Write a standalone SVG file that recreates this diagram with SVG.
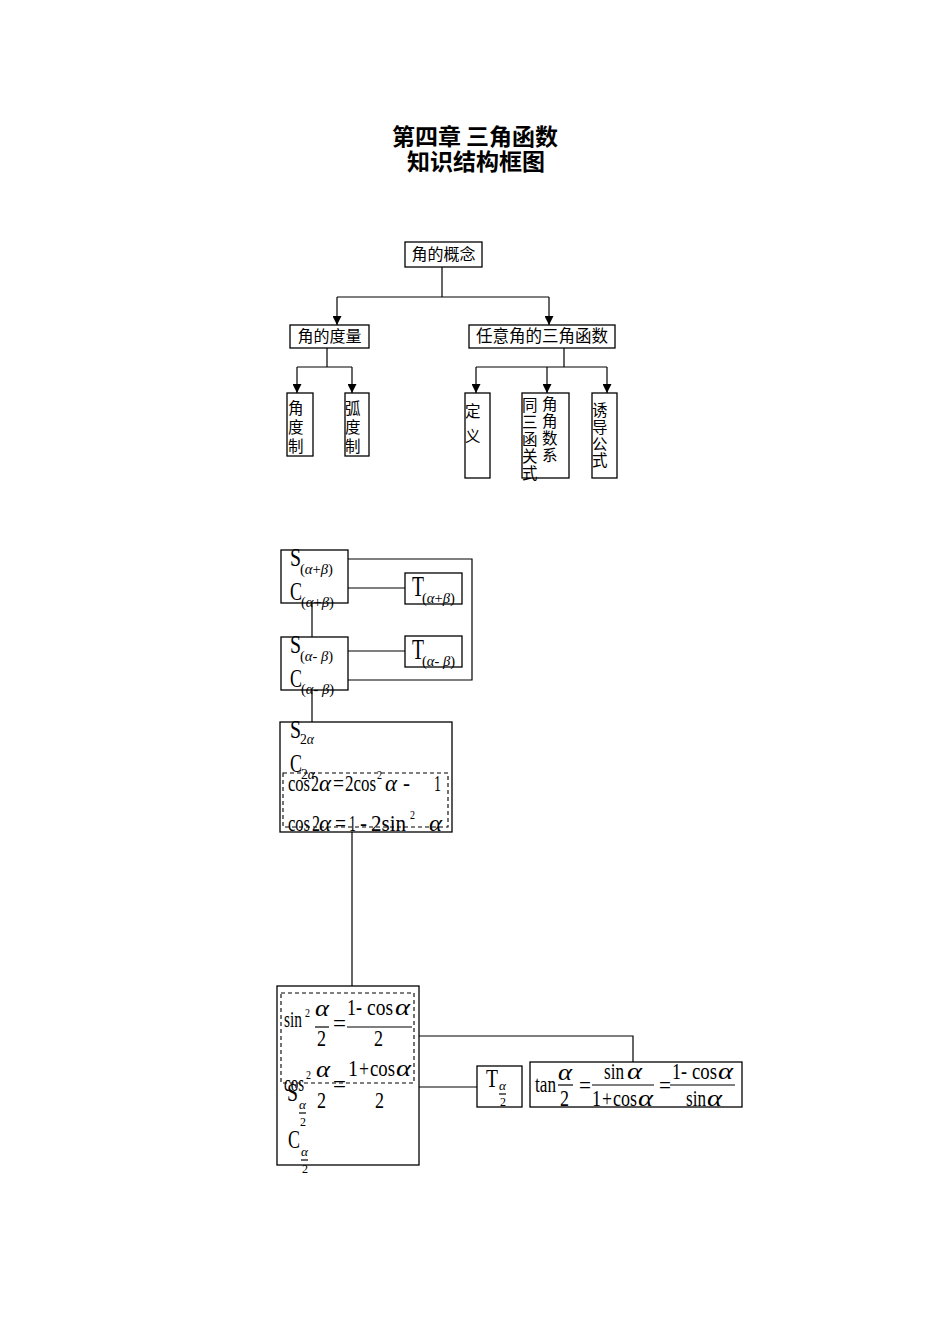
<svg xmlns="http://www.w3.org/2000/svg" width="950" height="1344" viewBox="0 0 950 1344">
<style>
.bx{fill:none;stroke:#000;stroke-width:1.3}
.ds{fill:none;stroke:#000;stroke-width:1.1;stroke-dasharray:4,3}
.ln{fill:none;stroke:#000;stroke-width:1.2}
.t{font-family:"Liberation Serif","Times New Roman",serif;fill:#000}
.i{font-style:italic}
.cj{font-family:"Noto Sans CJK SC","Noto Sans",sans-serif;fill:#000;font-size:15.5px}
.title{font-family:"Noto Sans CJK SC",sans-serif;font-weight:bold;font-size:23px;fill:#000;text-anchor:middle}
</style>
<defs>
<marker id="ah" viewBox="0 0 10 10" refX="10" refY="5" markerWidth="10" markerHeight="9" markerUnits="userSpaceOnUse" orient="auto">
<path d="M0,0 L10,5 L0,10 z" fill="#000"/>
</marker>
</defs>
<rect width="950" height="1344" fill="#fff"/>

<g id="title">
<text class="title" x="475" y="145">第四章 三角函数</text>
<text class="title" x="476" y="170">知识结构框图</text>
</g>

<g id="connectors">
<path class="ln" d="M442,267 V297 M337,297 H549 M327,348 V367 M297,367 H352 M564,348 V367 M476,367 H607"/>
<path class="ln" d="M337,297 V325" marker-end="url(#ah)"/>
<path class="ln" d="M549,297 V325" marker-end="url(#ah)"/>
<path class="ln" d="M297,367 V393" marker-end="url(#ah)"/>
<path class="ln" d="M352,367 V393" marker-end="url(#ah)"/>
<path class="ln" d="M476,367 V393" marker-end="url(#ah)"/>
<path class="ln" d="M547,367 V393" marker-end="url(#ah)"/>
<path class="ln" d="M607,367 V393" marker-end="url(#ah)"/>
<path class="ln" d="M312,603 V637 M348,559 H472 V680 H348 M348,588 H405 M348,651 H405 M312,690 V722 M352,832 V986 M419,1036 H633 V1062 M419,1087 H477"/>
</g>

<g id="n-concept">
<rect class="bx" x="405" y="242" width="77" height="25"/>
<text class="cj" x="443.5" y="260" text-anchor="middle" style="font-size:16px">角的概念</text>
</g>
<g id="n-measure">
<rect class="bx" x="290" y="325" width="79" height="23"/>
<text class="cj" x="329.5" y="342" text-anchor="middle" style="font-size:16px">角的度量</text>
</g>
<g id="n-trig">
<rect class="bx" x="469" y="325" width="146" height="23"/>
<text class="cj" x="542" y="342" text-anchor="middle" style="font-size:16.5px">任意角的三角函数</text>
</g>
<g id="n-degree">
<rect class="bx" x="287" y="393" width="26" height="63"/>
<text class="cj" x="288" y="414">角</text>
<text class="cj" x="288" y="433">度</text>
<text class="cj" x="288" y="452">制</text>
</g>
<g id="n-radian">
<rect class="bx" x="345" y="393" width="24" height="63"/>
<text class="cj" x="345" y="414">弧</text>
<text class="cj" x="345" y="433">度</text>
<text class="cj" x="345" y="452">制</text>
</g>
<g id="n-def">
<rect class="bx" x="465" y="393" width="25" height="85"/>
<text class="cj" x="465" y="417">定</text>
<text class="cj" x="465" y="442">义</text>
</g>
<g id="n-relation">
<rect class="bx" x="522" y="393" width="47" height="85"/>
<text class="cj" x="522" y="411">同</text>
<text class="cj" x="522" y="428">三</text>
<text class="cj" x="522" y="445">函</text>
<text class="cj" x="522" y="462">关</text>
<text class="cj" x="522" y="479">式</text>
<text class="cj" x="542" y="410">角</text>
<text class="cj" x="542" y="427">角</text>
<text class="cj" x="542" y="444">数</text>
<text class="cj" x="542" y="461">系</text>
</g>
<g id="n-induce">
<rect class="bx" x="592" y="393" width="25" height="85"/>
<text class="cj" x="592" y="416">诱</text>
<text class="cj" x="592" y="433">导</text>
<text class="cj" x="592" y="450">公</text>
<text class="cj" x="592" y="466">式</text>
</g>

<g id="n-sc-plus">
<rect class="bx" x="281" y="550" width="67" height="53"/>
<text class="t" x="290" y="566" font-size="25" textLength="11" lengthAdjust="spacingAndGlyphs">S</text>
<text class="t" x="300" y="574" font-size="14" textLength="33" lengthAdjust="spacingAndGlyphs">(<tspan class="i">α</tspan>+<tspan class="i">β</tspan>)</text>
<text class="t" x="290" y="600" font-size="25" textLength="12" lengthAdjust="spacingAndGlyphs">C</text>
<text class="t" x="301" y="607" font-size="14" textLength="33" lengthAdjust="spacingAndGlyphs">(<tspan class="i">α</tspan>+<tspan class="i">β</tspan>)</text>
</g>
<g id="n-sc-minus">
<rect class="bx" x="281" y="637" width="67" height="53"/>
<text class="t" x="290" y="653" font-size="25" textLength="11" lengthAdjust="spacingAndGlyphs">S</text>
<text class="t" x="300" y="661" font-size="14" textLength="33" lengthAdjust="spacingAndGlyphs">(<tspan class="i">α</tspan>- <tspan class="i">β</tspan>)</text>
<text class="t" x="290" y="687" font-size="25" textLength="12" lengthAdjust="spacingAndGlyphs">C</text>
<text class="t" x="301" y="694" font-size="14" textLength="33" lengthAdjust="spacingAndGlyphs">(<tspan class="i">α</tspan>- <tspan class="i">β</tspan>)</text>
</g>
<g id="n-t-plus">
<rect class="bx" x="405" y="573" width="57" height="31"/>
<text class="t" x="412" y="596" font-size="30" textLength="12" lengthAdjust="spacingAndGlyphs">T</text>
<text class="t" x="422" y="603" font-size="14" textLength="33" lengthAdjust="spacingAndGlyphs">(<tspan class="i">α</tspan>+<tspan class="i">β</tspan>)</text>
</g>
<g id="n-t-minus">
<rect class="bx" x="405" y="636" width="57" height="31"/>
<text class="t" x="412" y="659" font-size="30" textLength="12" lengthAdjust="spacingAndGlyphs">T</text>
<text class="t" x="422" y="666" font-size="14" textLength="33" lengthAdjust="spacingAndGlyphs">(<tspan class="i">α</tspan>- <tspan class="i">β</tspan>)</text>
</g>

<g id="n-double">
<rect class="bx" x="280" y="722" width="172" height="110"/>
<text class="t" x="290" y="738" font-size="25" textLength="11" lengthAdjust="spacingAndGlyphs">S</text>
<text class="t" x="300" y="744" font-size="14" textLength="14" lengthAdjust="spacingAndGlyphs">2<tspan class="i">α</tspan></text>
<text class="t" x="290" y="772" font-size="25" textLength="12" lengthAdjust="spacingAndGlyphs">C</text>
<text class="t" x="301" y="779" font-size="14" textLength="14" lengthAdjust="spacingAndGlyphs">2<tspan class="i">α</tspan></text>
<rect class="ds" x="283" y="773" width="165" height="54"/>
<text class="t" x="288" y="791" font-size="23" textLength="22" lengthAdjust="spacingAndGlyphs">cos</text>
<text class="t" x="311" y="791" font-size="23" textLength="8" lengthAdjust="spacingAndGlyphs">2</text>
<text class="t i" x="319" y="791" font-size="23" textLength="12" lengthAdjust="spacingAndGlyphs">α</text>
<text class="t" x="333" y="791" font-size="23" textLength="11" lengthAdjust="spacingAndGlyphs">=</text>
<text class="t" x="345" y="791" font-size="23" textLength="31" lengthAdjust="spacingAndGlyphs">2cos</text>
<text class="t" x="377" y="779" font-size="12" textLength="5" lengthAdjust="spacingAndGlyphs">2</text>
<text class="t i" x="385" y="791" font-size="23" textLength="12" lengthAdjust="spacingAndGlyphs">α</text>
<text class="t" x="403" y="791" font-size="23" textLength="7" lengthAdjust="spacingAndGlyphs">-</text>
<text class="t" x="434" y="791" font-size="23" textLength="7" lengthAdjust="spacingAndGlyphs">1</text>
<text class="t" x="288" y="831" font-size="23" textLength="22" lengthAdjust="spacingAndGlyphs">cos</text>
<text class="t" x="312" y="831" font-size="23" textLength="8" lengthAdjust="spacingAndGlyphs">2</text>
<text class="t i" x="319" y="831" font-size="23" textLength="12" lengthAdjust="spacingAndGlyphs">α</text>
<text class="t" x="335" y="831" font-size="23" textLength="11" lengthAdjust="spacingAndGlyphs">=</text>
<text class="t" x="349" y="831" font-size="23" textLength="7" lengthAdjust="spacingAndGlyphs">1</text>
<text class="t" x="360" y="831" font-size="23" textLength="7" lengthAdjust="spacingAndGlyphs">-</text>
<text class="t" x="371" y="831" font-size="23" textLength="35" lengthAdjust="spacingAndGlyphs">2sin</text>
<text class="t" x="410" y="819" font-size="12" textLength="5" lengthAdjust="spacingAndGlyphs">2</text>
<text class="t i" x="429" y="831" font-size="23" textLength="13" lengthAdjust="spacingAndGlyphs">α</text>
</g>

<g id="n-half">
<rect class="bx" x="277" y="986" width="142" height="179"/>
<rect class="ds" x="281" y="993" width="133" height="90"/>
<text class="t" x="284" y="1027" font-size="23" textLength="18" lengthAdjust="spacingAndGlyphs">sin</text>
<text class="t" x="305" y="1017" font-size="12" textLength="5" lengthAdjust="spacingAndGlyphs">2</text>
<text class="t i" x="315" y="1016" font-size="23" textLength="14" lengthAdjust="spacingAndGlyphs">α</text>
<path class="ln" d="M315,1027 H329"/>
<text class="t" x="317" y="1046" font-size="23" textLength="9" lengthAdjust="spacingAndGlyphs">2</text>
<text class="t" x="333" y="1031" font-size="23" textLength="13" lengthAdjust="spacingAndGlyphs">=</text>
<text class="t" x="347" y="1015" font-size="23" textLength="15" lengthAdjust="spacingAndGlyphs">1-</text>
<text class="t" x="367" y="1015" font-size="23" textLength="26" lengthAdjust="spacingAndGlyphs">cos</text>
<text class="t i" x="395" y="1015" font-size="23" textLength="15" lengthAdjust="spacingAndGlyphs">α</text>
<path class="ln" d="M347,1027 H412"/>
<text class="t" x="374" y="1046" font-size="23" textLength="9" lengthAdjust="spacingAndGlyphs">2</text>
<text class="t" x="284" y="1091" font-size="23" textLength="20" lengthAdjust="spacingAndGlyphs">cos</text>
<text class="t" x="306" y="1079" font-size="12" textLength="5" lengthAdjust="spacingAndGlyphs">2</text>
<text class="t i" x="316" y="1077" font-size="23" textLength="14" lengthAdjust="spacingAndGlyphs">α</text>
<text class="t" x="317" y="1108" font-size="23" textLength="9" lengthAdjust="spacingAndGlyphs">2</text>
<text class="t" x="333" y="1092" font-size="23" textLength="13" lengthAdjust="spacingAndGlyphs">=</text>
<text class="t" x="348" y="1076" font-size="23" textLength="10" lengthAdjust="spacingAndGlyphs">1</text>
<text class="t" x="359" y="1076" font-size="23" textLength="10" lengthAdjust="spacingAndGlyphs">+</text>
<text class="t" x="370" y="1076" font-size="23" textLength="25" lengthAdjust="spacingAndGlyphs">cos</text>
<text class="t i" x="396" y="1076" font-size="23" textLength="15" lengthAdjust="spacingAndGlyphs">α</text>
<text class="t" x="375" y="1108" font-size="23" textLength="9" lengthAdjust="spacingAndGlyphs">2</text>
<text class="t" x="287" y="1101" font-size="25" textLength="11" lengthAdjust="spacingAndGlyphs">S</text>
<text class="t i" x="299" y="1109" font-size="12" textLength="7" lengthAdjust="spacingAndGlyphs">α</text>
<path class="ln" d="M299,1113 H306" stroke-width="0.6"/>
<text class="t" x="300" y="1126" font-size="12" textLength="6" lengthAdjust="spacingAndGlyphs">2</text>
<text class="t" x="288" y="1148" font-size="25" textLength="12" lengthAdjust="spacingAndGlyphs">C</text>
<text class="t i" x="301" y="1156" font-size="12" textLength="7" lengthAdjust="spacingAndGlyphs">α</text>
<path class="ln" d="M301,1160 H308" stroke-width="0.6"/>
<text class="t" x="302" y="1173" font-size="12" textLength="6" lengthAdjust="spacingAndGlyphs">2</text>
</g>

<g id="n-t-half">
<rect class="bx" x="477" y="1066" width="45" height="41"/>
<text class="t" x="486" y="1087" font-size="25" textLength="12" lengthAdjust="spacingAndGlyphs">T</text>
<text class="t i" x="499" y="1090" font-size="12" textLength="7" lengthAdjust="spacingAndGlyphs">α</text>
<path class="ln" d="M499,1094 H506" stroke-width="0.6"/>
<text class="t" x="500" y="1106" font-size="12" textLength="6" lengthAdjust="spacingAndGlyphs">2</text>
</g>

<g id="n-tan-half">
<rect class="bx" x="530" y="1062" width="212" height="45"/>
<text class="t" x="535" y="1092" font-size="23" textLength="21" lengthAdjust="spacingAndGlyphs">tan</text>
<text class="t i" x="558" y="1080" font-size="23" textLength="14" lengthAdjust="spacingAndGlyphs">α</text>
<path class="ln" d="M558,1085 H573"/>
<text class="t" x="560" y="1106" font-size="23" textLength="9" lengthAdjust="spacingAndGlyphs">2</text>
<text class="t" x="579" y="1093" font-size="23" textLength="12" lengthAdjust="spacingAndGlyphs">=</text>
<text class="t" x="604" y="1079" font-size="23" textLength="20" lengthAdjust="spacingAndGlyphs">sin</text>
<text class="t i" x="627" y="1079" font-size="23" textLength="15" lengthAdjust="spacingAndGlyphs">α</text>
<path class="ln" d="M592,1085 H654"/>
<text class="t" x="592" y="1106" font-size="23" textLength="9" lengthAdjust="spacingAndGlyphs">1</text>
<text class="t" x="602" y="1106" font-size="23" textLength="10" lengthAdjust="spacingAndGlyphs">+</text>
<text class="t" x="613" y="1106" font-size="23" textLength="24" lengthAdjust="spacingAndGlyphs">cos</text>
<text class="t i" x="638" y="1106" font-size="23" textLength="15" lengthAdjust="spacingAndGlyphs">α</text>
<text class="t" x="659" y="1093" font-size="23" textLength="12" lengthAdjust="spacingAndGlyphs">=</text>
<text class="t" x="672" y="1079" font-size="23" textLength="15" lengthAdjust="spacingAndGlyphs">1-</text>
<text class="t" x="692" y="1079" font-size="23" textLength="25" lengthAdjust="spacingAndGlyphs">cos</text>
<text class="t i" x="718" y="1079" font-size="23" textLength="15" lengthAdjust="spacingAndGlyphs">α</text>
<path class="ln" d="M670,1085 H735"/>
<text class="t" x="686" y="1106" font-size="23" textLength="20" lengthAdjust="spacingAndGlyphs">sin</text>
<text class="t i" x="707" y="1106" font-size="23" textLength="15" lengthAdjust="spacingAndGlyphs">α</text>
</g>
</svg>
